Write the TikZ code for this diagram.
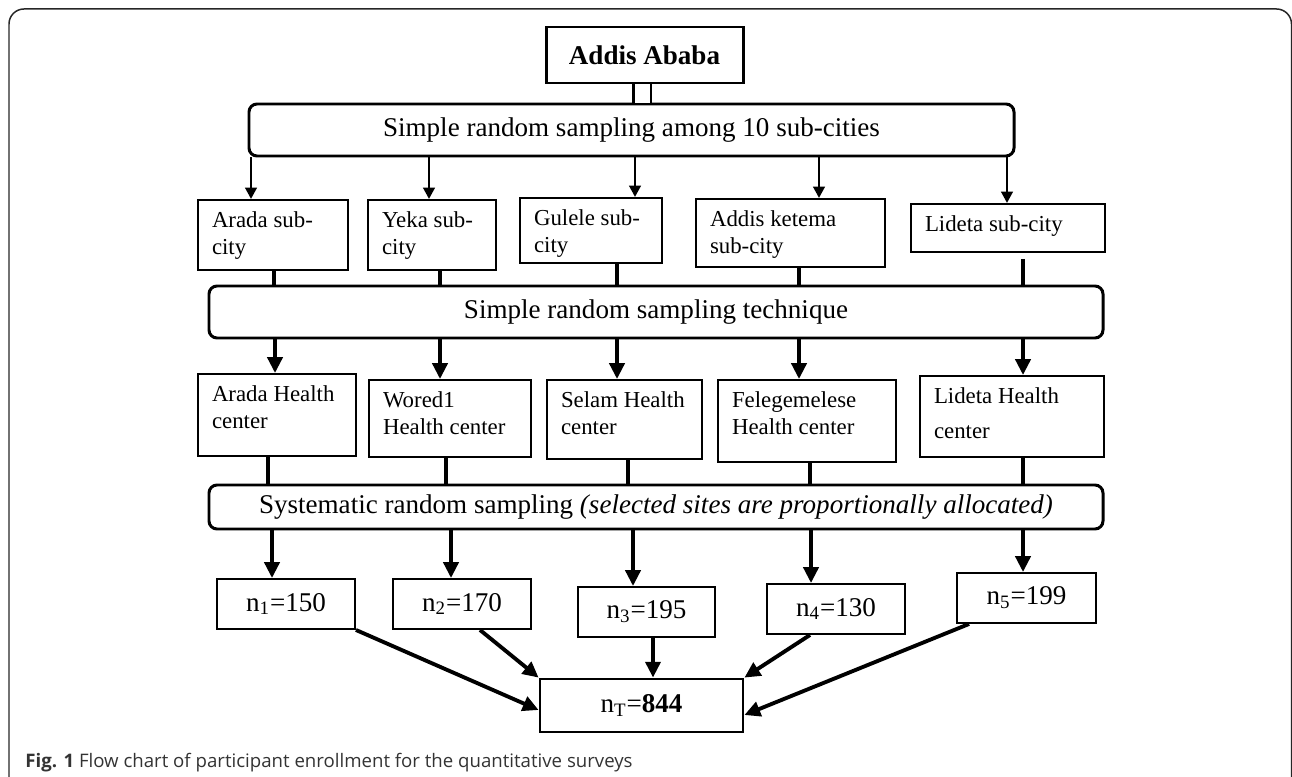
\documentclass[tikz,border=0pt]{standalone}
\usepackage{fontspec}
\setmainfont{Liberation Serif}
\newfontfamily\capfont{Open Sans}
\usetikzlibrary{arrows.meta}

\newcommand{\boxtxt}[3]{\parbox[c][#1][t]{#2}{\raggedright #3}}

\tikzset{
  frame/.style={draw=black!85, line width=0.85pt, rounded corners=0.3cm},
  rootbox/.style={draw, line width=1.7pt, inner sep=0pt, minimum width=3.94cm, minimum height=1.12cm, font=\fontsize{15.4}{18}\selectfont\bfseries},
  stagebox/.style={draw, line width=1.7pt, rounded corners=0.16cm, inner sep=0pt, minimum width=17.88cm, minimum height=1.04cm, font=\fontsize{15.4}{18}\selectfont},
  unitbox/.style={draw, line width=1.1pt, inner xsep=0.28cm, inner ysep=0.24cm, font=\fontsize{13}{15.4}\selectfont},
  countbox/.style={draw, line width=1.1pt, inner sep=0pt, minimum width=2.76cm, minimum height=1cm, font=\fontsize{15.4}{18}\selectfont},
  flow/.style={line width=2.2pt, -{Triangle[length=9pt,width=8.5pt]}},
  flowthin/.style={line width=1.6pt, -{Triangle[length=6.5pt,width=6.5pt]}},
  joint/.style={line width=2.2pt},
}

\begin{document}
\begin{tikzpicture}
    \useasboundingbox (0,0) rectangle (25.84,15.52);
    \draw[frame] (0.18,-0.5) -- (0.18,15.34) -- (25.83,15.34) -- (25.83,-0.5);

    \node[rootbox] (addis) at (12.89,14.42) {Addis Ababa};
    \node[stagebox, minimum width=15.3cm] (srsA) at (12.63,12.92) {Simple random sampling among 10 sub-cities};
    \draw[line width=1.7pt, double, double distance=0.3cm] (12.84,0 |- addis.south) -- (12.84,0 |- srsA.north);

    \node[unitbox] (arada) at (5.46,10.82) {\boxtxt{0.92cm}{2.44cm}{Arada sub-\\city}};
    \node[unitbox] (yeka) at (8.64,10.82) {\boxtxt{0.92cm}{2.00cm}{Yeka sub-\\city}};
    \node[unitbox] (gulele) at (11.82,10.91) {\boxtxt{0.82cm}{2.28cm}{Gulele sub-\\city}};
    \node[unitbox] (ketema) at (15.81,10.86) {\boxtxt{0.88cm}{3.22cm}{Addis ketema\\sub-city}};
    \node[unitbox] (lidsub) at (20.16,10.96) {\boxtxt{0.48cm}{3.32cm}{Lideta sub-city}};

    \draw[flowthin] (5.02,0 |- srsA.south) -- (5.02,0 |- arada.north);
    \draw[flowthin] (8.58,0 |- srsA.south) -- (8.58,0 |- yeka.north);
    \draw[flowthin] (12.70,0 |- srsA.south) -- (12.70,0 |- gulele.north);
    \draw[flowthin] (16.38,0 |- srsA.south) -- (16.38,0 |- ketema.north);
    \draw[flowthin] (20.14,0 |- srsA.south) -- (20.14,0 |- lidsub.north);

    \node[stagebox] (srsB) at (13.12,9.28) {Simple random sampling technique};

    \draw[joint] (5.48,0 |- arada.south) -- (5.48,0 |- srsB.north);
    \draw[joint] (8.80,0 |- yeka.south) -- (8.80,0 |- srsB.north);
    \draw[joint] (12.34,0 |- gulele.south) -- (12.34,0 |- srsB.north);
    \draw[joint] (15.98,0 |- ketema.south) -- (15.98,0 |- srsB.north);
    \draw[joint, shorten <=0.12cm] (20.46,0 |- lidsub.south) -- (20.46,0 |- srsB.north);

    \node[unitbox] (hcArada) at (5.54,7.22) {\boxtxt{1.16cm}{2.60cm}{Arada Health\\center}};
    \node[unitbox] (hcWored) at (9.00,7.15) {\boxtxt{1.06cm}{2.68cm}{Wored1\\Health center}};
    \node[unitbox] (hcSelam) at (12.49,7.13) {\boxtxt{1.10cm}{2.54cm}{Selam Health\\center}};
    \node[unitbox] (hcFeleg) at (16.14,7.10) {\boxtxt{1.16cm}{3.00cm}{Felegemelese\\Health center}};
    \node[unitbox] (hcLideta) at (20.24,7.19) {\boxtxt{1.14cm}{3.12cm}{Lideta Health\\[4.5pt]center}};

    \draw[flow] (5.50,0 |- srsB.south) -- (5.50,0 |- hcArada.north);
    \draw[flow] (8.80,0 |- srsB.south) -- (8.80,0 |- hcWored.north);
    \draw[flow] (12.34,0 |- srsB.south) -- (12.34,0 |- hcSelam.north);
    \draw[flow] (15.98,0 |- srsB.south) -- (15.98,0 |- hcFeleg.north);
    \draw[flow] (20.46,0 |- srsB.south) -- (20.46,0 |- hcLideta.north);

    \node[stagebox, minimum height=0.88cm] (srsC) at (13.12,5.38) {Systematic random sampling \textit{(selected sites are proportionally allocated)}};

    \draw[joint] (5.36,0 |- hcArada.south) -- (5.36,0 |- srsC.north);
    \draw[joint] (8.92,0 |- hcWored.south) -- (8.92,0 |- srsC.north);
    \draw[joint] (12.56,0 |- hcSelam.south) -- (12.56,0 |- srsC.north);
    \draw[joint] (16.20,0 |- hcFeleg.south) -- (16.20,0 |- srsC.north);
    \draw[joint] (20.46,0 |- hcLideta.south) -- (20.46,0 |- srsC.north);

    \node[countbox] (nA) at (5.72,3.44) {n\textsubscript{1}=150};
    \node[countbox] (nB) at (9.24,3.44) {n\textsubscript{2}=170};
    \node[countbox, minimum width=2.74cm] (nC) at (12.93,3.28) {n\textsubscript{3}=195};
    \node[countbox] (nD) at (16.72,3.34) {n\textsubscript{4}=130};
    \node[countbox, minimum width=2.78cm] (nE) at (20.53,3.56) {n\textsubscript{5}=199};

    \draw[flow] (5.44,0 |- srsC.south) -- (5.44,0 |- nA.north);
    \draw[flow] (9.02,0 |- srsC.south) -- (9.02,0 |- nB.north);
    \draw[flow] (12.66,0 |- srsC.south) -- (12.66,0 |- nC.north);
    \draw[flow] (16.22,0 |- srsC.south) -- (16.22,0 |- nD.north);
    \draw[flow] (20.46,0 |- srsC.south) -- (20.46,0 |- nE.north);

    \node[countbox, line width=1.6pt, minimum width=4.06cm, minimum height=1.06cm] (nT) at (12.83,1.41) {n\textsubscript{T}=\textbf{844}};

    \draw[flow] (nA.south east) -- ([yshift=-0.09cm]nT.west);
    \draw[flow] ([xshift=0.36cm]nB.south) -- (nT.north west);
    \draw[flow] (13.06,0 |- nC.south) -- (13.06,0 |- nT.north);
    \draw[flow] ([xshift=-0.52cm]nD.south) -- (nT.north east);
    \draw[flow] ([xshift=0.26cm]nE.south west) -- ([yshift=-0.19cm]nT.east);

    \node[anchor=west, inner sep=0pt, text=black!80, font=\capfont\fontsize{10.6}{12}\selectfont] (caption) at (0.5,0.26) {\textbf{Fig. 1} Flow chart of participant enrollment for the quantitative surveys};
\end{tikzpicture}
\end{document}
